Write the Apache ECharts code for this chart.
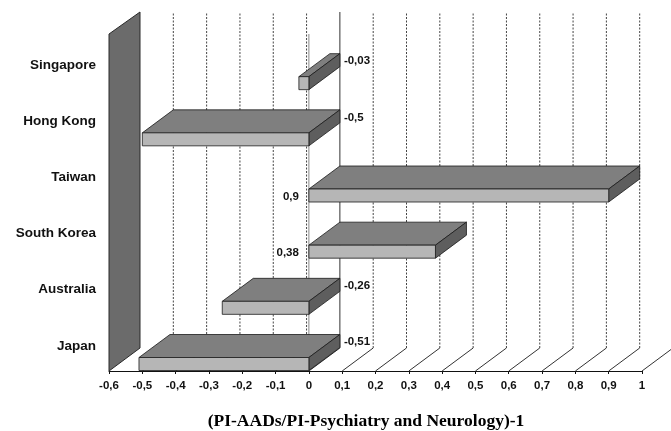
<!DOCTYPE html>
<html>
<head>
<meta charset="utf-8">
<script src="https://cdn.jsdelivr.net/npm/echarts@6/dist/echarts.min.js"></script>
<style>html,body{margin:0;padding:0;background:#fff}#c{width:671px;height:431px}</style>
</head>
<body>
<div id="c"></div>
<script>
// Data
var categories = ['Japan', 'Australia', 'South Korea', 'Taiwan', 'Hong Kong', 'Singapore'];
var values = [-0.51, -0.26, 0.38, 0.9, -0.5, -0.03];
var tickValues = [-0.6, -0.5, -0.4, -0.3, -0.2, -0.1, 0, 0.1, 0.2, 0.3, 0.4, 0.5, 0.6, 0.7, 0.8, 0.9, 1];
var axisTitle = '(PI-AADs/PI-Psychiatry and Neurology)-1';

var DX = 31, DY = -23, FACE_H = 13;
var SANS = '"Liberation Sans", Arial, sans-serif';

function fmt(v) { return String(Math.round(v * 100) / 100).replace('.', ','); }

var chart = echarts.init(document.getElementById('c'), null, {renderer: 'canvas'});

var barData = values.map(function (v, i) { return [v, i]; });
var tickData = tickValues.map(function (v) { return [v, 0]; });

function renderDecor(params, api) {
  var v = api.value(0);
  var cs = params.coordSys;
  var top = cs.y, bottom = cs.y + cs.height;
  var px = api.coord([v, 0])[0];
  var children = [];
  if (v === tickValues[0]) {
    children.push({type: 'polygon', shape: {points: [[px, top], [px + DX, top + DY + 1], [px + DX, bottom + DY], [px, bottom]]},
      style: {fill: '#6b6b6b', stroke: '#2a2a2a', lineWidth: 1}});
  } else {
    children.push({type: 'line', shape: {x1: px + DX, y1: bottom + DY, x2: px + DX, y2: top + DY + 1},
      style: {stroke: v === 0 ? '#333' : '#444', lineWidth: 1, lineDash: v === 0 ? null : [2, 1.5]}});
    children.push({type: 'line', shape: {x1: px, y1: bottom, x2: px + DX, y2: bottom + DY},
      style: {stroke: '#333', lineWidth: 1}});
  }
  if (v === 0) {
    children.push({type: 'line', shape: {x1: px, y1: top, x2: px, y2: bottom},
      style: {stroke: '#888', lineWidth: 1}});
  }
  return {type: 'group', children: children};
}

function renderBar(params, api) {
  var v = api.value(0), idx = api.value(1);
  var band = api.size([0, 1])[1];
  var cy = api.coord([0, idx])[1];
  var yb = cy + band / 2 - 0.5;
  var yt = yb - FACE_H;
  var x0 = api.coord([0, idx])[0];
  var x1 = api.coord([v, idx])[0];
  var xl = Math.min(x0, x1), xr = Math.max(x0, x1);
  var edge = {stroke: '#1a1a1a', lineWidth: 0.8};
  var children = [
    {type: 'polygon', shape: {points: [[xl, yt], [xr, yt], [xr + DX, yt + DY], [xl + DX, yt + DY]]},
      style: Object.assign({fill: '#7f7f7f'}, edge)},
    {type: 'polygon', shape: {points: [[xr, yt], [xr + DX, yt + DY], [xr + DX, yb + DY], [xr, yb]]},
      style: Object.assign({fill: '#5e5e5e'}, edge)},
    {type: 'rect', shape: {x: xl, y: yt, width: xr - xl, height: yb - yt},
      style: Object.assign({fill: '#b6b6b6'}, edge)}
  ];
  var label;
  if (v < 0) {
    label = {type: 'text', style: {text: fmt(v), x: x0 + DX + 4, y: (yt + yb) / 2 + DY + 1,
      align: 'left', verticalAlign: 'middle', fill: '#111', font: 'bold 11.5px ' + SANS}};
  } else {
    label = {type: 'text', style: {text: fmt(v), x: x0 - 10, y: (yt + yb) / 2 + 1,
      align: 'right', verticalAlign: 'middle', fill: '#111', font: 'bold 11.5px ' + SANS}};
  }
  children.push(label);
  return {type: 'group', children: children};
}

chart.setOption({
  animation: false,
  backgroundColor: '#fff',
  title: {
    text: axisTitle, left: 361, top: 407, textAlign: 'center',
    textStyle: {fontFamily: '"Liberation Serif", "Times New Roman", serif', fontWeight: 'bold', fontSize: 17.5, color: '#000'}
  },
  grid: {left: 109, right: 29, top: 34, bottom: 60},
  xAxis: {
    type: 'value', min: -0.6, max: 1, interval: 0.1,
    axisLine: {show: true, lineStyle: {color: '#111', width: 1}},
    axisTick: {show: true, length: 3, lineStyle: {color: '#111'}},
    splitLine: {show: false},
    axisLabel: {margin: 9, color: '#111', fontFamily: SANS, fontWeight: 'bold', fontSize: 11.5,
      formatter: function (v) { return fmt(v); }}
  },
  yAxis: {
    type: 'category', data: categories,
    axisLine: {show: false}, axisTick: {show: false}, splitLine: {show: false},
    axisLabel: {margin: 13, color: '#111', fontFamily: SANS, fontWeight: 'bold', fontSize: 13.5,
      verticalAlign: 'top', lineHeight: 6}
  },
  series: [
    {type: 'custom', renderItem: renderDecor, data: tickData, clip: false, z: 1, silent: true},
    {type: 'custom', renderItem: renderBar, data: barData, clip: false, z: 2, silent: true}
  ]
});
</script>
</body>
</html>
